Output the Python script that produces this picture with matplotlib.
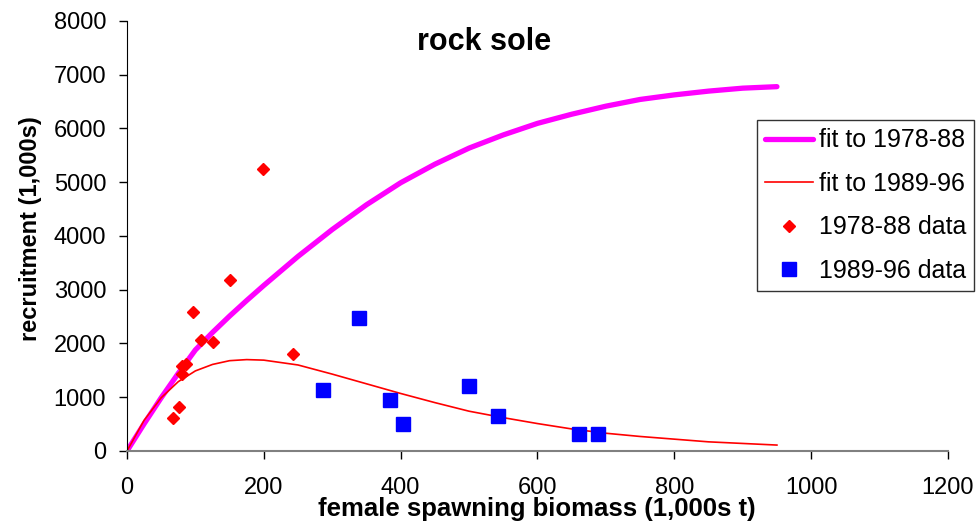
import numpy as np
import matplotlib.pyplot as plt

plt.rcParams['font.family'] = ['Liberation Sans', 'DejaVu Sans']

# fitted stock-recruit curves (female spawning biomass vs recruitment)
fit_x = [0, 25, 50, 75, 100, 125, 150, 175, 200, 250, 300, 350, 400, 450,
         500, 550, 600, 650, 700, 750, 800, 850, 900, 950]
fit_7888 = [0, 505, 990, 1445, 1880, 2205, 2510, 2800, 3080, 3620, 4120,
            4580, 4990, 5335, 5635, 5880, 6095, 6265, 6415, 6540, 6625,
            6695, 6750, 6778]
fit_8996 = [0, 570, 990, 1290, 1490, 1610, 1680, 1700, 1690, 1600, 1430,
            1250, 1070, 900, 740, 620, 510, 410, 330, 270, 220, 170, 140, 110]

# observed points
sb_7888 = [199, 150, 97, 108, 126, 86, 80, 81, 76, 68, 242]
rec_7888 = [5250, 3180, 2580, 2060, 2030, 1620, 1580, 1430, 810, 620, 1805]
sb_8996 = [339, 286, 385, 403, 500, 543, 660, 689]
rec_8996 = [2470, 1135, 950, 510, 1210, 660, 320, 320]

fig = plt.figure(figsize=(9.79, 5.31), dpi=100)
ax = fig.add_axes([0.1297, 0.1507, 0.8386, 0.8098])

ax.plot(fit_x, fit_7888, color='#ff00ff', lw=3.8, label='fit to 1978-88',
        solid_capstyle='round')
ax.plot(fit_x, fit_8996, color='#ff0000', lw=1.2, label='fit to 1989-96')
ax.plot(sb_7888, rec_7888, ls='none', marker='D', ms=6, color='#ff0000',
        mec='#ff0000', label='1978-88 data')
ax.plot(sb_8996, rec_8996, ls='none', marker='s', ms=9.5, color='#0000ff',
        mec='#0000ff', label='1989-96 data')

ax.set_xlim(0, 1200)
ax.set_ylim(0, 8000)
ax.set_xticks(np.arange(0, 1201, 200))
ax.set_yticks(np.arange(0, 8001, 1000))
ax.tick_params(direction='out', length=6, width=1, labelsize=17)
ax.tick_params(axis='x', pad=13)
ax.tick_params(axis='y', pad=9)
ax.spines['top'].set_visible(False)
ax.spines['right'].set_visible(False)
ax.spines['left'].set_color('black')
ax.spines['bottom'].set_color('#808080')
ax.spines['bottom'].set_linewidth(1.5)

ax.set_xlabel('female spawning biomass (1,000s t)', fontsize=18.5,
              fontweight='bold')
ax.xaxis.set_label_coords(0.499, -0.108)
ax.set_ylabel('recruitment (1,000s)', fontsize=17, fontweight='bold')
ax.yaxis.set_label_coords(-0.103, 0.516)
ax.text(0.435, 0.9326, 'rock sole', transform=ax.transAxes, ha='center',
        va='baseline', fontsize=22, fontweight='bold')

leg = ax.legend(loc='upper left', bbox_to_anchor=(0.773, 0.774),
                bbox_transform=fig.transFigure, fontsize=18, frameon=True,
                fancybox=False, borderaxespad=0, handlelength=1.9,
                handletextpad=0.25, labelspacing=0.78, borderpad=0.33,
                markerscale=1.0)
leg.get_frame().set_edgecolor('black')
leg.get_frame().set_linewidth(1)

fig.savefig('out.png', dpi=100)
